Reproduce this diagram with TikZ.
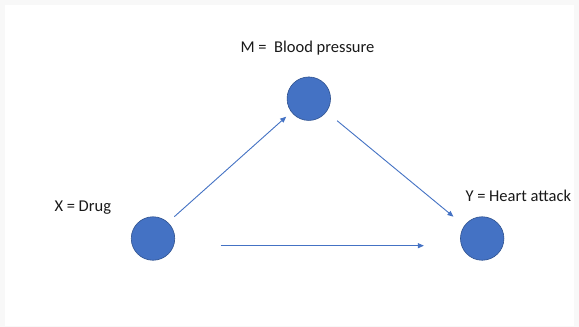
\documentclass[tikz,border=0pt]{standalone}
\usepackage{fontspec}
\setmainfont{Carlito}
\usetikzlibrary{arrows.meta}
\definecolor{nodefill}{HTML}{4472C4}
\definecolor{nodeedge}{HTML}{2F528F}
\definecolor{edgecol}{HTML}{4472C4}
\definecolor{framegray}{HTML}{F8F8F8}
\begin{document}
\begin{tikzpicture}[x=1pt,y=-1pt,
  dot/.style={circle,fill=nodefill,draw=nodeedge,line width=0.6pt,minimum size=43.5pt,inner sep=0pt},
  lab/.style={font=\fontsize{16.5}{19}\selectfont,inner sep=0pt,text=black!90},
  conn/.style={draw=edgecol,line width=0.9pt,-{Triangle[length=6pt,width=5pt]}}]
\fill[framegray] (0,0) rectangle (579,327);
\fill[white] (5,5) rectangle (574,326);
\useasboundingbox (0,0) rectangle (579,327);
\node[dot] (X) at (153,238.5) {};
\node[dot] (M) at (308.8,98.7) {};
\node[dot] (Y) at (482.2,238.5) {};
\node[lab,anchor=west] (lm) at (240.4,48) {M =\ \ Blood pressure};
\node[lab,anchor=west] (lx) at (54.3,208) {X = Drug};
\node[lab,anchor=west] (ly) at (465.3,196) {Y = Heart attack};
\coordinate (a1) at (174.3,216.7);
\coordinate (a2) at (286.2,116.7);
\coordinate (b1) at (337.1,120.7);
\coordinate (b2) at (453.5,216.7);
\coordinate (c1) at (220.5,245.7);
\coordinate (c2) at (423.9,245.7);
\draw[conn] (a1) -- (a2);
\draw[conn] (b1) -- (b2);
\draw[conn] (c1) -- (c2);
\end{tikzpicture}
\end{document}
